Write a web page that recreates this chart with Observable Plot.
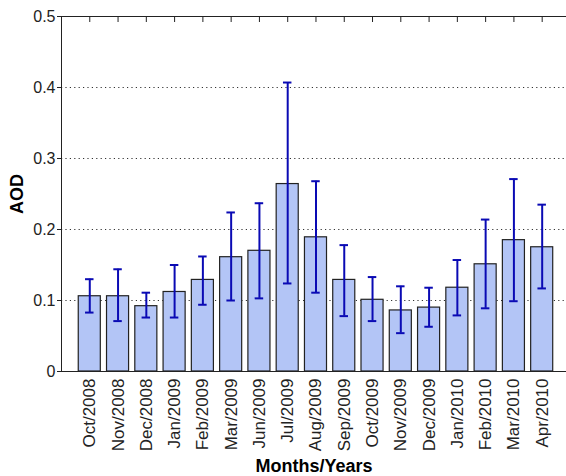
<!DOCTYPE html>
<html>
<head>
<meta charset="utf-8">
<script src="https://cdn.jsdelivr.net/npm/d3@7"></script>
<script src="https://cdn.jsdelivr.net/npm/@observablehq/plot@0.6"></script>
<style>
  html, body { margin: 0; padding: 0; background: #fff; }
  svg { display: block; }
</style>
</head>
<body>
<div id="chart"></div>
<script>
const months = ["Oct/2008","Nov/2008","Dec/2008","Jan/2009","Feb/2009","Mar/2009","Jun/2009","Jul/2009","Aug/2009","Sep/2009","Oct/2009","Nov/2009","Dec/2009","Jan/2010","Feb/2010","Mar/2010","Apr/2010"];
const aod  = [0.106,0.106,0.092,0.112,0.129,0.161,0.170,0.264,0.189,0.129,0.101,0.086,0.090,0.118,0.151,0.185,0.175];
const low  = [0.083,0.071,0.076,0.076,0.094,0.100,0.103,0.124,0.111,0.078,0.071,0.054,0.063,0.079,0.089,0.099,0.117];
const high = [0.130,0.144,0.111,0.150,0.162,0.224,0.237,0.407,0.268,0.178,0.133,0.120,0.118,0.157,0.214,0.271,0.235];
const yTicks = [0, 0.1, 0.2, 0.3, 0.4, 0.5];
const gridTicks = [0.1, 0.2, 0.3, 0.4];

const data = months.map((m, i) => ({i: i + 1, month: m, aod: aod[i], low: low[i], high: high[i]}));
const idx = data.map(d => d.i);
const barHalf = 0.39, capHalf = 0.15;

const chart = Plot.plot({
  width: 566,
  height: 476,
  marginLeft: 61,
  marginRight: 0,
  marginTop: 16,
  marginBottom: 105,
  style: {fontFamily: "'Liberation Sans', Arial, sans-serif", color: "#222", background: "#fff"},
  x: {domain: [0, 17.86], axis: null},
  y: {domain: [0, 0.5], axis: null},
  marks: [
    Plot.ruleY(gridTicks, {stroke: "#333", strokeDasharray: "1.2,3.2", strokeWidth: 1}),
    Plot.rectY(data, {x1: d => d.i - barHalf, x2: d => d.i + barHalf, y1: 0, y2: "aod", fill: "#b3c5f6", stroke: "#222", strokeWidth: 1.2}),
    Plot.ruleX(data, {x: "i", y1: "low", y2: "high", stroke: "#0a0ab4", strokeWidth: 2}),
    Plot.ruleY(data, {x1: d => d.i - capHalf, x2: d => d.i + capHalf, y: "low", stroke: "#0a0ab4", strokeWidth: 2}),
    Plot.ruleY(data, {x1: d => d.i - capHalf, x2: d => d.i + capHalf, y: "high", stroke: "#0a0ab4", strokeWidth: 2}),
    Plot.ruleY([0, 0.5], {stroke: "#222", strokeWidth: 1}),
    Plot.ruleX([0], {stroke: "#222", strokeWidth: 1}),
    Plot.axisY({ticks: yTicks, tickSize: 4, tickPadding: 2, fontSize: 16, tickFormat: d => d === 0 ? "0" : d3.format(".1f")(d),
      label: "AOD", labelAnchor: "center", labelArrow: "none", labelOffset: 51}),
    Plot.axisX({anchor: "top", ticks: idx, tickSize: 5, dy: 5, tickFormat: () => "", label: null, stroke: "#222"}),
    Plot.axisX({anchor: "bottom", ticks: idx, tickSize: 0, tickPadding: 7, tickRotate: -90, fontSize: 17,
      tickFormat: i => months[i - 1], label: "Months/Years", labelAnchor: "center", labelArrow: "none", labelOffset: 100})
  ]
});
document.getElementById("chart").appendChild(chart);
d3.select(chart).selectAll("[aria-label='y-axis label'] text, [aria-label='x-axis label'] text, [aria-label='y-axis label'], [aria-label='x-axis label']")
  .attr("font-weight", "bold").attr("font-size", 18).attr("fill", "#000");
</script>
</body>
</html>
